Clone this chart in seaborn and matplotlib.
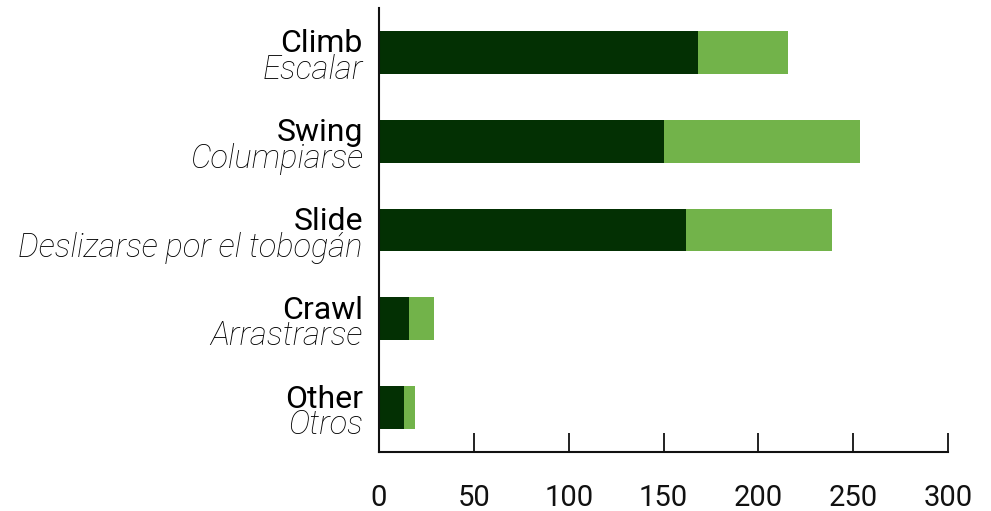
import matplotlib
matplotlib.use("Agg")
import matplotlib.pyplot as plt
import matplotlib.transforms as mtransforms
import seaborn as sns
import pandas as pd

categories_en = ["Climb", "Swing", "Slide", "Crawl", "Other"]
categories_es = ["Escalar", "Columpiarse", "Deslizarse por el tobogán", "Arrastrarse", "Otros"]
dark_values = [168, 150, 162, 16, 13]
light_values = [47.5, 103.5, 77, 13, 6]
x_ticks = [0, 50, 100, 150, 200, 250, 300]

totals = [d + l for d, l in zip(dark_values, light_values)]
df = pd.DataFrame({"cat": categories_en, "dark": dark_values, "total": totals})

sns.set_theme(style="white")
plt.rcParams["font.family"] = ["Roboto", "DejaVu Sans"]

fig = plt.figure(figsize=(9.91, 5.11), dpi=100)
ax = fig.add_axes([379 / 991, 1 - 452 / 511, (948 - 379) / 991, (452 - 8) / 511])

sns.barplot(data=df, y="cat", x="total", color="#72b34a", orient="h", width=0.48,
            saturation=1, ax=ax, order=categories_en)
sns.barplot(data=df, y="cat", x="dark", color="#033003", orient="h", width=0.48,
            saturation=1, ax=ax, order=categories_en)

for p in ax.patches:
    p.set_edgecolor("none")
    p.set_linewidth(0)

ax.set_xlim(0, 300)
ax.set_ylim(4.5, -0.5)
ax.set_xticks(x_ticks)
ax.set_xticklabels([str(t) for t in x_ticks], fontsize=21)
ax.tick_params(axis="x", direction="in", length=14, width=1.3, color="#111111",
               pad=23, bottom=True, labelcolor="#111111")
ax.set_yticks(range(len(categories_en)))
ax.set_yticklabels([])
ax.tick_params(axis="y", length=0, left=False)
ax.set_xlabel("")
ax.set_ylabel("")

for s in ["top", "right"]:
    ax.spines[s].set_visible(False)
for s in ["left", "bottom"]:
    ax.spines[s].set_color("#111111")
    ax.spines[s].set_linewidth(1.5)

trans = mtransforms.blended_transform_factory(ax.transAxes, ax.transData)
offset = mtransforms.ScaledTranslation(-16 / 100, 0, fig.dpi_scale_trans)
for i, (en, es) in enumerate(zip(categories_en, categories_es)):
    ax.text(0, i, en, transform=trans + offset, ha="right", va="baseline",
            fontsize=23, color="#000000")
    ax.text(0, i + 0.30, es, transform=trans + offset, ha="right", va="baseline",
            fontsize=23.5, fontstyle="italic", fontweight="light", color="#000000")

fig.savefig("out.png", dpi=100)
